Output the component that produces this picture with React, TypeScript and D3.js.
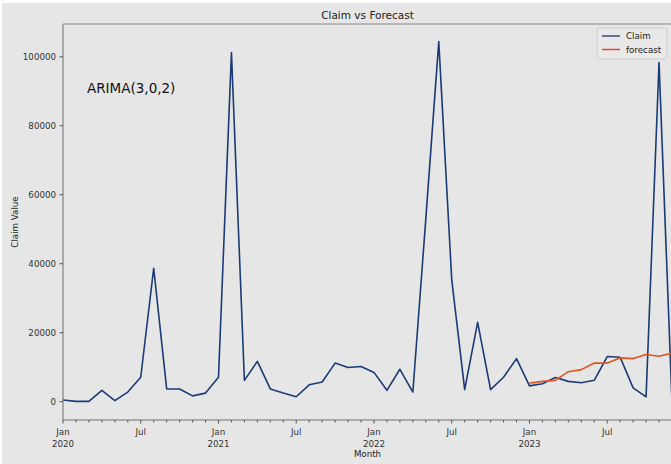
import React, { useEffect, useRef } from "react";
import * as d3 from "d3";

// monthly claim values, Jan 2020 - Dec 2023
const claim = [
  500, 100, 100, 3300, 300, 2800, 7100, 38700, 3700, 3700, 1700, 2500,
  7100, 101200, 6200, 11700, 3700, 2500, 1450, 4900, 5700, 11200, 9900, 10200,
  8500, 3300, 9400, 2800, 53000, 104400, 35400, 3500, 23000, 3500, 7100, 12500,
  4600, 5200, 7000, 5900, 5500, 6200, 13100, 12900, 4000, 1400, 98300, -200,
];
// forecast Jan 2023 - Dec 2023
const forecastStart = 36;
const forecast = [5400, 5900, 6200, 8700, 9300, 11200, 11200, 12700, 12500, 13700, 13200, 14100];

const yTicks = [0, 20000, 40000, 60000, 80000, 100000];
const monthNames = ["Jan", "Jul"];
const startYear = 2020;

const FONT = "DejaVu Sans, sans-serif";

export default function App() {
  const ref = useRef<SVGSVGElement>(null);

  useEffect(() => {
    const svg = d3.select(ref.current);
    svg.selectAll("*").remove();

    const W = 671, H = 464;
    const left = 63, right = 672, top = 24, bottom = 420;

    svg.append("rect").attr("width", W).attr("height", H).attr("fill", "#ffffff");
    svg.append("rect").attr("x", 2).attr("y", 3).attr("width", W).attr("height", H).attr("fill", "#e6e6e6");

    const x = d3.scaleLinear().domain([0, claim.length - 1]).range([left, right]);
    const y = d3.scaleLinear().domain([-5300, 109500]).range([bottom, top]);

    // clip for plot area
    svg.append("defs").append("clipPath").attr("id", "plotclip")
      .append("rect").attr("x", left).attr("y", top).attr("width", right - left).attr("height", bottom - top);

    const line = d3.line<number>().x((d, i) => x(i)).y(d => y(d));
    const fLine = d3.line<number>().x((d, i) => x(i + forecastStart)).y(d => y(d));

    const plot = svg.append("g").attr("clip-path", "url(#plotclip)");
    plot.append("path").datum(claim)
      .attr("d", line).attr("fill", "none")
      .attr("stroke", "#1b3a78").attr("stroke-width", 1.6).attr("stroke-linejoin", "round");
    plot.append("path").datum(forecast)
      .attr("d", fLine).attr("fill", "none")
      .attr("stroke", "#e8531c").attr("stroke-width", 1.6).attr("stroke-linejoin", "round");

    // spines
    svg.append("line").attr("x1", left).attr("x2", left).attr("y1", top).attr("y2", bottom)
      .attr("stroke", "#6e6e6e").attr("stroke-width", 1);
    svg.append("line").attr("x1", left).attr("x2", right).attr("y1", bottom).attr("y2", bottom)
      .attr("stroke", "#6e6e6e").attr("stroke-width", 1);
    svg.append("line").attr("x1", left).attr("x2", right).attr("y1", top).attr("y2", top)
      .attr("stroke", "#8a8a8a").attr("stroke-width", 1);

    // y axis
    const yAxis = svg.append("g");
    yTicks.forEach(t => {
      yAxis.append("line").attr("x1", left - 3.5).attr("x2", left).attr("y1", y(t)).attr("y2", y(t))
        .attr("stroke", "#555");
      yAxis.append("text").attr("x", left - 7).attr("y", y(t)).attr("dy", "0.35em")
        .attr("text-anchor", "end").attr("font-family", FONT).attr("font-size", 8.7)
        .attr("fill", "#333").text(t);
    });

    // x axis, monthly ticks
    const xAxis = svg.append("g");
    d3.range(claim.length).forEach(i => {
      const m = i % 12;
      const major = m === 0 || m === 6;
      xAxis.append("line").attr("x1", x(i)).attr("x2", x(i)).attr("y1", bottom).attr("y2", bottom + (major ? 3.5 : 2.5))
        .attr("stroke", "#555");
      if (major) {
        xAxis.append("text").attr("x", x(i)).attr("y", bottom + 15)
          .attr("text-anchor", "middle").attr("font-family", FONT).attr("font-size", 8.7)
          .attr("fill", "#333").text(monthNames[m / 6]);
        if (m === 0) {
          xAxis.append("text").attr("x", x(i)).attr("y", bottom + 27)
            .attr("text-anchor", "middle").attr("font-family", FONT).attr("font-size", 8.7)
            .attr("fill", "#333").text(startYear + i / 12);
        }
      }
    });

    // labels
    svg.append("text").attr("x", (left + right) / 2).attr("y", 19)
      .attr("text-anchor", "middle").attr("font-family", FONT).attr("font-size", 10.5)
      .attr("fill", "#222").text("Claim vs Forecast");
    svg.append("text").attr("x", (left + right) / 2).attr("y", 457)
      .attr("text-anchor", "middle").attr("font-family", FONT).attr("font-size", 8.7)
      .attr("fill", "#222").text("Month");
    svg.append("text").attr("transform", `translate(18,${(top + bottom) / 2}) rotate(-90)`)
      .attr("text-anchor", "middle").attr("font-family", FONT).attr("font-size", 8.7)
      .attr("fill", "#222").text("Claim Value");
    svg.append("text").attr("x", 87).attr("y", 93)
      .attr("font-family", FONT).attr("font-size", 13.5)
      .attr("fill", "#111").text("ARIMA(3,0,2)");

    // legend
    const lg = svg.append("g").attr("transform", "translate(597,28)");
    lg.append("rect").attr("width", 70).attr("height", 31).attr("rx", 2)
      .attr("fill", "#e9e9e9").attr("stroke", "#cfcfcf");
    [["Claim", "#3b4a7e"], ["forecast", "#e24a33"]].forEach(([name, c], i) => {
      lg.append("line").attr("x1", 5).attr("x2", 23).attr("y1", 8 + i * 13.5).attr("y2", 8 + i * 13.5)
        .attr("stroke", c).attr("stroke-width", 1.5);
      lg.append("text").attr("x", 29).attr("y", 8 + i * 13.5).attr("dy", "0.35em")
        .attr("font-family", FONT).attr("font-size", 8.7).attr("fill", "#222").text(name);
    });
  }, []);

  return (
    <svg ref={ref} width={671} height={464}
      style={{ position: "absolute", left: 0, top: 0, display: "block" }} />
  );
}
